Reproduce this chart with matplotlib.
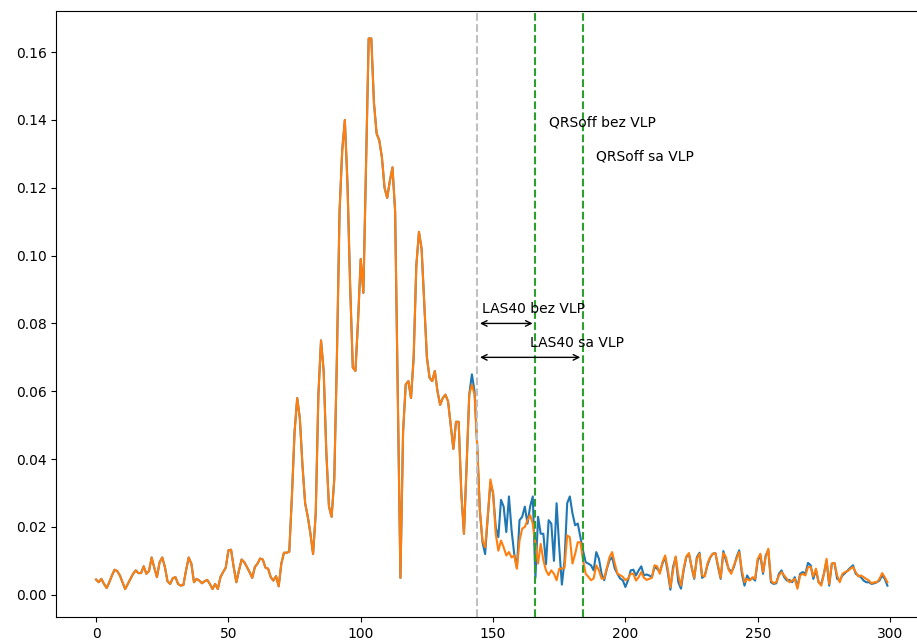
import numpy as np
import matplotlib
matplotlib.use('Agg')
import matplotlib.pyplot as plt

# signal common to both recordings (samples 0..141)
common = [0.0045, 0.0037, 0.0047, 0.0032, 0.0020, 0.0037, 0.0057, 0.0074, 0.0070, 0.0057,
          0.0037, 0.0017, 0.0032, 0.0047, 0.0062, 0.0072, 0.0064, 0.0064, 0.0084, 0.0062,
          0.0070, 0.0110, 0.0080, 0.0052, 0.0096, 0.0110, 0.0082, 0.0040, 0.0032, 0.0049,
          0.0052, 0.0032, 0.0027, 0.0029, 0.0072, 0.0110, 0.0092, 0.0037, 0.0047, 0.0042,
          0.0034, 0.0040, 0.0044, 0.0032, 0.0017, 0.0032, 0.0017, 0.0052, 0.0067, 0.0080,
          0.0131, 0.0133, 0.0082, 0.0037, 0.0072, 0.0104, 0.0096, 0.0082, 0.0067, 0.0050,
          0.0082, 0.0092, 0.0107, 0.0104, 0.0080, 0.0077, 0.0052, 0.0042, 0.0055, 0.0025,
          0.0092, 0.0124, 0.0124, 0.0127, 0.029, 0.048, 0.058, 0.052, 0.038, 0.027,
          0.023, 0.018, 0.012, 0.024, 0.059, 0.075, 0.066, 0.042, 0.026, 0.023,
          0.034, 0.070, 0.113, 0.131, 0.140, 0.121, 0.091, 0.067, 0.066, 0.081,
          0.099, 0.089, 0.126, 0.164, 0.164, 0.145, 0.136, 0.134, 0.129, 0.120,
          0.117, 0.122, 0.126, 0.113, 0.059, 0.005, 0.048, 0.062, 0.063, 0.058,
          0.070, 0.097, 0.107, 0.102, 0.086, 0.070, 0.064, 0.063, 0.066, 0.060,
          0.056, 0.058, 0.059, 0.057, 0.050, 0.043, 0.051, 0.051, 0.030, 0.018,
          0.038, 0.059]

# samples 142..299, with VLP (blue)
tail_sa = [0.065, 0.060, 0.044, 0.025, 0.0155, 0.012, 0.023, 0.033, 0.030, 0.020,
           0.017, 0.028, 0.026, 0.0185, 0.029, 0.019, 0.012, 0.008, 0.022, 0.023,
           0.026, 0.021, 0.026, 0.029, 0.005, 0.023, 0.018, 0.018, 0.009, 0.022,
           0.021, 0.010, 0.027, 0.014, 0.003, 0.010, 0.027, 0.029, 0.024, 0.0205,
           0.021, 0.017, 0.013, 0.0096, 0.0092, 0.0087, 0.0072, 0.0126, 0.0106, 0.0062,
           0.0043, 0.0077, 0.0102, 0.0111, 0.0077, 0.0062, 0.0048, 0.0043, 0.0023, 0.0043,
           0.0072, 0.0074, 0.0057, 0.0072, 0.0084, 0.0057, 0.0060, 0.0057, 0.0052, 0.0082,
           0.0077, 0.0067, 0.0092, 0.0111, 0.0067, 0.0015, 0.0082, 0.0111, 0.0037, 0.0018,
           0.0072, 0.0111, 0.0121, 0.0082, 0.0047, 0.0111, 0.0124, 0.0050, 0.0057, 0.0087,
           0.0109, 0.0121, 0.0123, 0.0082, 0.0047, 0.0129, 0.0101, 0.0077, 0.0067, 0.0082,
           0.0111, 0.0131, 0.0062, 0.0027, 0.0057, 0.0044, 0.0050, 0.0042, 0.0101, 0.0116,
           0.0062, 0.0116, 0.0131, 0.0037, 0.0032, 0.0034, 0.0062, 0.0072, 0.0052, 0.0042,
           0.0044, 0.0037, 0.0052, 0.0023, 0.0062, 0.0067, 0.0062, 0.0094, 0.0087, 0.0047,
           0.0072, 0.0037, 0.0032, 0.0062, 0.0101, 0.0027, 0.0092, 0.0094, 0.0047, 0.0042,
           0.0057, 0.0064, 0.0072, 0.0080, 0.0087, 0.0062, 0.0057, 0.0052, 0.0042, 0.0037,
           0.0037, 0.0032, 0.0034, 0.0037, 0.0042, 0.0057, 0.0047, 0.0027]

# samples 142..299, without VLP (orange)
tail_bez = [0.062, 0.059, 0.044, 0.025, 0.016, 0.014, 0.023, 0.034, 0.030, 0.018,
            0.013, 0.016, 0.014, 0.0116, 0.0126, 0.011, 0.0116, 0.0077, 0.016, 0.0195,
            0.020, 0.022, 0.0235, 0.021, 0.015, 0.0092, 0.015, 0.0102, 0.0072, 0.0058,
            0.0072, 0.0062, 0.0043, 0.0077, 0.0077, 0.008, 0.0175, 0.017, 0.0092, 0.012,
            0.0155, 0.0155, 0.0102, 0.0062, 0.0053, 0.0043, 0.0048, 0.0087, 0.0072, 0.0048,
            0.0048, 0.008, 0.0111, 0.0126, 0.0092, 0.0062, 0.0058, 0.0053, 0.0043, 0.0048,
            0.0062, 0.0062, 0.0042, 0.0052, 0.0067, 0.0050, 0.0044, 0.0047, 0.0050, 0.0087,
            0.0084, 0.0062, 0.0096, 0.0116, 0.0077, 0.0022, 0.0072, 0.0113, 0.0057, 0.0027,
            0.0077, 0.0113, 0.0123, 0.0082, 0.0050, 0.0106, 0.0121, 0.0057, 0.0054, 0.0092,
            0.0111, 0.0121, 0.0123, 0.0087, 0.0050, 0.0123, 0.0111, 0.0074, 0.0062, 0.0087,
            0.0106, 0.0126, 0.0072, 0.0037, 0.0047, 0.0042, 0.0052, 0.0047, 0.0106, 0.0121,
            0.0067, 0.0111, 0.0136, 0.0042, 0.0034, 0.0037, 0.0057, 0.0067, 0.0057, 0.0047,
            0.0037, 0.0042, 0.0047, 0.0018, 0.0057, 0.0062, 0.0057, 0.0082, 0.0082, 0.0054,
            0.0077, 0.0037, 0.0027, 0.0062, 0.0106, 0.0032, 0.0092, 0.0094, 0.0057, 0.0037,
            0.0062, 0.0067, 0.0070, 0.0077, 0.0082, 0.0067, 0.0054, 0.0057, 0.0052, 0.0047,
            0.0042, 0.0034, 0.0037, 0.0037, 0.0047, 0.0064, 0.0052, 0.0037]

sa_vlp = np.array(common + tail_sa)
bez_vlp = np.array(common + tail_bez)

qrs_on = 144
qrs_off_bez = 166
qrs_off_sa = 184

fig = plt.figure(figsize=(9.17, 6.43), dpi=100)
ax = fig.add_axes([0.0616, 0.040, 0.9493, 0.943])

ax.plot(sa_vlp)
ax.plot(bez_vlp)

ax.axvline(qrs_on, color='silver', linestyle='--')
ax.axvline(qrs_off_bez, color='C2', linestyle='--')
ax.axvline(qrs_off_sa, color='C2', linestyle='--')

ax.text(qrs_off_bez + 5, 0.138, 'QRSoff bez VLP')
ax.text(qrs_off_sa + 5, 0.128, 'QRSoff sa VLP')

ax.annotate('', xy=(qrs_on, 0.08), xytext=(qrs_off_bez, 0.08),
            arrowprops=dict(arrowstyle='<->'))
ax.text(qrs_on + 2, 0.083, 'LAS40 bez VLP')
ax.annotate('', xy=(qrs_on, 0.07), xytext=(qrs_off_sa, 0.07),
            arrowprops=dict(arrowstyle='<->'))
ax.text(qrs_on + 20, 0.073, 'LAS40 sa VLP')

fig.savefig('out.png', dpi=100)
